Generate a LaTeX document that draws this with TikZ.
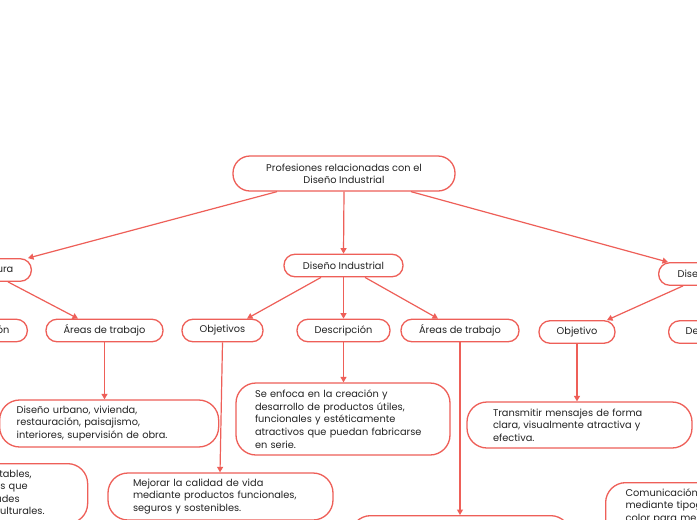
\documentclass[tikz,border=0pt]{standalone}
\usepackage{fontspec}
\setmainfont{Poppins}
\usetikzlibrary{arrows.meta}
\definecolor{lnc}{RGB}{238,95,88}
\definecolor{txc}{RGB}{35,35,35}
\begin{document}
\begin{tikzpicture}[x=1pt,y=-1pt,
  every node/.style={font=\fontsize{9.8}{12.6}\selectfont, text=txc},
  pill/.style={draw=lnc, line width=1.3pt, rounded corners=11pt, minimum height=22.5pt, inner xsep=0pt, inner ysep=0pt, fill=white},
  pillx/.style={draw=lnc, line width=1.3pt, rounded corners=11pt, minimum height=22.5pt, inner xsep=#1, inner ysep=0pt, fill=white},
  blk/.style={draw=lnc, line width=1.3pt, rounded corners=20pt, inner ysep=0pt, fill=white, align=left},
  conn/.style={draw=lnc, line width=1.2pt, -{Triangle[length=5.5pt,width=6pt]}}
]
\useasboundingbox (0,0) rectangle (697,520);
\clip (0,0) rectangle (697,520);
\fill[white] (0,0) rectangle (697,520);

% root
\node[pill, rounded corners=17pt, minimum width=222pt, minimum height=35pt, align=center, font=\fontsize{9.8}{12}\selectfont] (root) at (344,173.5) {Profesiones relacionadas con el\\Diseño Industrial};

% level 1
\node[pillx=18pt, anchor=east] (arq) at (32,270) {Arquitectura};
\node[pill, minimum width=119pt] (di) at (343.5,265.5) {Diseño Industrial};
\node[pillx=19pt, anchor=west] (dg) at (658,274) {Diseño Gráfico};

% level 2
\node[pillx=18pt, anchor=east] (arqdesc) at (28,330.5) {Descripción};
\node[pill, minimum width=117pt] (arqareas) at (104.5,330.5) {Áreas de trabajo};
\node[pill, minimum width=81pt] (obj) at (222.5,330.5) {Objetivos};
\node[pill, minimum width=93pt] (desc) at (343.5,330.5) {Descripción};
\node[pill, minimum width=118pt] (areas2) at (460,330.5) {Áreas de trabajo};
\node[pill, minimum width=76pt] (objg) at (577,332) {Objetivo};
\node[pillx=17pt, anchor=west] (descg) at (668,332) {Descripción};

% level 3
\node[blk, inner xsep=17pt, text width=185pt, minimum height=47pt, anchor=west] (urb) at (-1,423.5) {Diseño urbano, vivienda,\\restauración, paisajismo,\\interiores, supervisión de obra.};
\node[blk, inner xsep=19pt, text width=176pt, minimum height=72pt] (enf) at (343,419) {Se enfoca en la creación y\\desarrollo de productos útiles,\\funcionales y estéticamente\\atractivos que puedan fabricarse\\en serie.};
\node[blk, inner xsep=26pt, text width=173pt, minimum height=46pt] (trans) at (579.5,425) {Transmitir mensajes de forma\\clara, visualmente atractiva y\\efectiva.};
\node[blk, inner xsep=25pt, text width=175pt, minimum height=47pt] (mej) at (220.5,496.5) {Mejorar la calidad de vida\\mediante productos funcionales,\\seguros y sostenibles.};
\node[blk, anchor=north west, inner xsep=0pt, inner ysep=6pt, text width=180pt] (hab) at (-93,463) {%
  \makebox[124pt][r]{Espacios confortables,}\\
  \makebox[120pt][r]{y estéticos que}\\
  \makebox[112pt][r]{necesidades}\\
  \makebox[137pt][r]{sociales y culturales.}};
\node[blk, anchor=north west, minimum width=220pt, minimum height=60pt] (bot) at (350,515) {};
\node[blk, anchor=north west, inner xsep=20pt, inner ysep=6pt, text width=170pt] (com) at (605,482) {Comunicación visual\\mediante tipografía, imágenes y\\color para mensajes\\claros.};

% connectors
\draw[conn] ([xshift=-67pt]root.south) -- ([xshift=-4pt]arq.north east);
\draw[conn] (root.south) -- (di.north);
\draw[conn] ([xshift=67pt]root.south) -- ([xshift=10pt]dg.north west);
\draw[conn] ([xshift=-24pt]arq.south east) -- ([xshift=-26.5pt]arqareas.north);
\draw[conn] (arqareas.south) -- (arqareas.south |- urb.north);
\draw[conn] ([xshift=-22.5pt]di.south) -- ([xshift=24.5pt]obj.north);
\draw[conn] (di.south) -- (desc.north);
\draw[conn] ([xshift=21.5pt]di.south) -- ([xshift=-22pt]areas2.north);
\draw[conn] (obj.south) -- ([xshift=-0.5pt]mej.north);
\draw[conn] (desc.south) -- (desc.south |- enf.north);
\draw[conn] (areas2.south) -- (areas2.south |- bot.north);
\draw[conn] ([xshift=25pt]dg.south west) -- ([xshift=30pt]objg.north);
\draw[conn] (objg.south) -- (objg.south |- trans.north);
\end{tikzpicture}
\end{document}
